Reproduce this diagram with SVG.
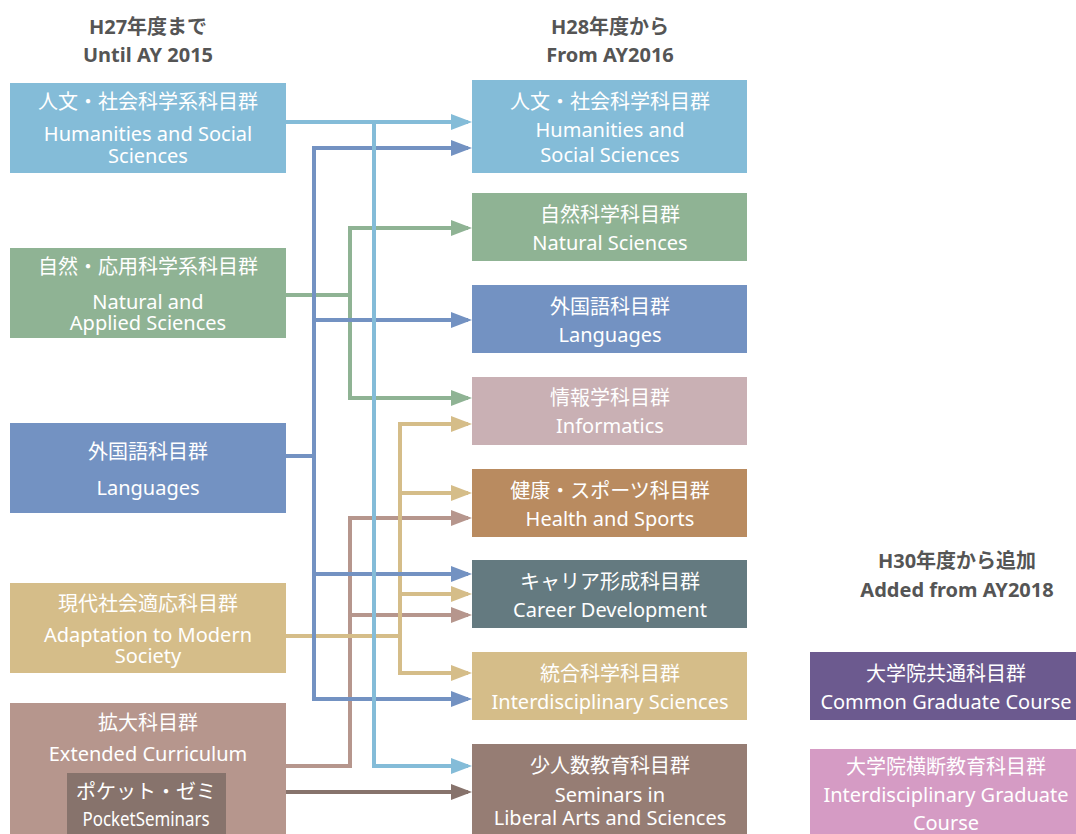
<svg xmlns="http://www.w3.org/2000/svg" width="1076" height="834" viewBox="0 0 1076 834">
<style>
.hd{font-family:"Noto Sans","Noto Sans CJK JP",sans-serif;font-weight:bold;font-size:20px;fill:#555;text-anchor:middle}
.t{font-family:"Noto Sans","Noto Sans CJK JP",sans-serif;font-size:20px;fill:#fff;text-anchor:middle;dominant-baseline:central}
.c{fill:none;stroke-width:4}
</style>
<defs>
<marker id="aLB" markerUnits="userSpaceOnUse" markerWidth="21" markerHeight="16" refX="17" refY="8" orient="auto"><path d="M0,0L21,8L0,16z" fill="#84bcd8"/></marker>
<marker id="aB" markerUnits="userSpaceOnUse" markerWidth="21" markerHeight="16" refX="17" refY="8" orient="auto"><path d="M0,0L21,8L0,16z" fill="#7392c2"/></marker>
<marker id="aG" markerUnits="userSpaceOnUse" markerWidth="21" markerHeight="16" refX="17" refY="8" orient="auto"><path d="M0,0L21,8L0,16z" fill="#8fb394"/></marker>
<marker id="aT" markerUnits="userSpaceOnUse" markerWidth="21" markerHeight="16" refX="17" refY="8" orient="auto"><path d="M0,0L21,8L0,16z" fill="#d5bd89"/></marker>
<marker id="aR" markerUnits="userSpaceOnUse" markerWidth="21" markerHeight="16" refX="17" refY="8" orient="auto"><path d="M0,0L21,8L0,16z" fill="#b6968d"/></marker>
<marker id="aBr" markerUnits="userSpaceOnUse" markerWidth="21" markerHeight="16" refX="17" refY="8" orient="auto"><path d="M0,0L21,8L0,16z" fill="#87736c"/></marker>
</defs>
<rect width="1076" height="834" fill="#fff"/>

<g id="headers">
<text class="hd" x="148" y="34">H27年度まで</text>
<text class="hd" x="148" y="62">Until AY 2015</text>
<text class="hd" x="610" y="34">H28年度から</text>
<text class="hd" x="610" y="62">From AY2016</text>
<text class="hd" x="957" y="568">H30年度から追加</text>
<text class="hd" x="957" y="597">Added from AY2018</text>
</g>

<g id="connectors">
<path class="c" stroke="#8fb394" d="M286,295H350"/>
<path class="c" stroke="#8fb394" d="M468,228H350V398H468" marker-end="url(#aG)"/>
<path class="c" stroke="#8fb394" d="M350,228H468" marker-end="url(#aG)"/>
<path class="c" stroke="#b6968d" d="M286,766H350V518H468" marker-end="url(#aR)"/>
<path class="c" stroke="#b6968d" d="M350,615H468" marker-end="url(#aR)"/>
<path class="c" stroke="#d5bd89" d="M286,636H400"/>
<path class="c" stroke="#d5bd89" d="M468,424H400V673H468" marker-end="url(#aT)"/>
<path class="c" stroke="#d5bd89" d="M400,424H468" marker-end="url(#aT)"/>
<path class="c" stroke="#d5bd89" d="M400,493H468" marker-end="url(#aT)"/>
<path class="c" stroke="#d5bd89" d="M400,594H468" marker-end="url(#aT)"/>
<path class="c" stroke="#7392c2" d="M286,456H314"/>
<path class="c" stroke="#7392c2" d="M468,148H314V699H468" marker-end="url(#aB)"/>
<path class="c" stroke="#7392c2" d="M314,148H468" marker-end="url(#aB)"/>
<path class="c" stroke="#7392c2" d="M314,320H468" marker-end="url(#aB)"/>
<path class="c" stroke="#7392c2" d="M314,574H468" marker-end="url(#aB)"/>
<path class="c" stroke="#84bcd8" d="M286,122H468" marker-end="url(#aLB)"/>
<path class="c" stroke="#84bcd8" d="M374,122V766H468" marker-end="url(#aLB)"/>
<path class="c" stroke="#87736c" d="M286,792H468" marker-end="url(#aBr)"/>
</g>

<g id="L1"><rect x="10" y="83" width="276" height="90" fill="#84bcd8"/>
<text class="t" x="148" y="101">人文・社会科学系科目群</text>
<text class="t" x="148" y="133">Humanities and Social</text>
<text class="t" x="148" y="155">Sciences</text></g>
<g id="L2"><rect x="10" y="248" width="276" height="90" fill="#8fb394"/>
<text class="t" x="148" y="266">自然・応用科学系科目群</text>
<text class="t" x="148" y="301">Natural and</text>
<text class="t" x="148" y="322">Applied Sciences</text></g>
<g id="L3"><rect x="10" y="423" width="276" height="90" fill="#7392c2"/>
<text class="t" x="148" y="451">外国語科目群</text>
<text class="t" x="148" y="487">Languages</text></g>
<g id="L4"><rect x="10" y="583" width="276" height="90" fill="#d5bd89"/>
<text class="t" x="148" y="603">現代社会適応科目群</text>
<text class="t" x="148" y="634">Adaptation to Modern</text>
<text class="t" x="148" y="655">Society</text></g>
<g id="L5"><rect x="10" y="703" width="276" height="131" fill="#b6968d"/>
<text class="t" x="148" y="722">拡大科目群</text>
<text class="t" x="148" y="753">Extended Curriculum</text></g>
<g id="L5p"><rect x="67" y="773" width="159" height="61" fill="#87736c"/>
<text class="t" x="146" y="791">ポケット・ゼミ</text>
<text class="t" x="146" y="818" textLength="127" lengthAdjust="spacingAndGlyphs">PocketSeminars</text></g>

<g id="R1"><rect x="472" y="80" width="275" height="93" fill="#84bcd8"/>
<text class="t" x="610" y="101">人文・社会科学科目群</text>
<text class="t" x="610" y="129">Humanities and</text>
<text class="t" x="610" y="154">Social Sciences</text></g>
<g id="R2"><rect x="472" y="193" width="275" height="68" fill="#8fb394"/>
<text class="t" x="610" y="214">自然科学科目群</text>
<text class="t" x="610" y="242">Natural Sciences</text></g>
<g id="R3"><rect x="472" y="285" width="275" height="68" fill="#7392c2"/>
<text class="t" x="610" y="306">外国語科目群</text>
<text class="t" x="610" y="334">Languages</text></g>
<g id="R4"><rect x="472" y="377" width="275" height="68" fill="#c9b0b4"/>
<text class="t" x="610" y="397">情報学科目群</text>
<text class="t" x="610" y="425">Informatics</text></g>
<g id="R5"><rect x="472" y="469" width="275" height="68" fill="#b98b60"/>
<text class="t" x="610" y="490">健康・スポーツ科目群</text>
<text class="t" x="610" y="518">Health and Sports</text></g>
<g id="R6"><rect x="472" y="560" width="275" height="68" fill="#647a80"/>
<text class="t" x="610" y="581">キャリア形成科目群</text>
<text class="t" x="610" y="609">Career Development</text></g>
<g id="R7"><rect x="472" y="652" width="275" height="68" fill="#d5bd89"/>
<text class="t" x="610" y="673">統合科学科目群</text>
<text class="t" x="610" y="701">Interdisciplinary Sciences</text></g>
<g id="R8"><rect x="472" y="744" width="275" height="90" fill="#967d74"/>
<text class="t" x="610" y="765">少人数教育科目群</text>
<text class="t" x="610" y="794">Seminars in</text>
<text class="t" x="610" y="817">Liberal Arts and Sciences</text></g>

<g id="G1"><rect x="810" y="652" width="266" height="68" fill="#6c5a8f"/>
<text class="t" x="946" y="673">大学院共通科目群</text>
<text class="t" x="946" y="701">Common Graduate Course</text></g>
<g id="G2"><rect x="810" y="749" width="266" height="85" fill="#d59bc4"/>
<text class="t" x="946" y="766">大学院横断教育科目群</text>
<text class="t" x="946" y="794">Interdisciplinary Graduate</text>
<text class="t" x="946" y="822">Course</text></g>
</svg>
